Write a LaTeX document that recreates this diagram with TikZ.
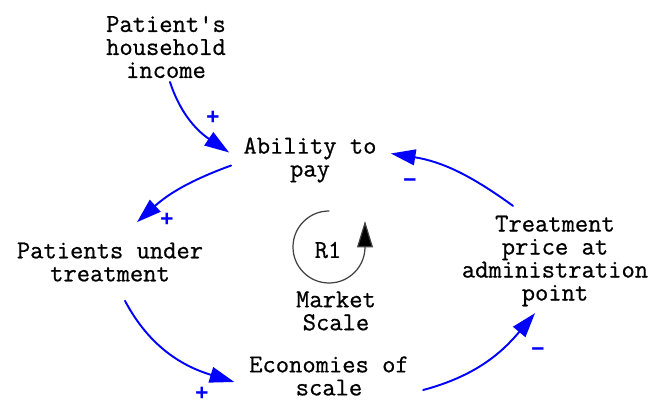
\documentclass[tikz,border=0pt]{standalone}
\usepackage{fontspec}
\newfontfamily\varfont{Latin Modern Mono}[FakeBold=0.7]
\newfontfamily\signfont{Liberation Mono}
\usepackage{tikz}
\usetikzlibrary{arrows.meta}

\begin{document}
\begin{tikzpicture}[line cap=round,line join=round,x=0.02cm,y=0.02cm,
  var/.style={align=center,inner sep=2pt,font=\varfont\fontsize{14.7}{13.1}\selectfont},
  link/.style={draw=blue,line width=1.1pt,-{Triangle[length=14pt,width=9pt]}},
  sign/.style={text=blue,font=\signfont\bfseries\fontsize{12.9}{13.1}\selectfont},
  loopsym/.style={draw=black!75,line width=0.7pt,-{Triangle[length=15pt,width=9pt,fill=black]}}]
\useasboundingbox (0,0) rectangle (653,403);
\node[var] (inc) at (166,356) {Patient's\\household\\income};
\node[var] (abl) at (310,243) {Ability to\\pay};
\node[var] (pat) at (110,141) {Patients under\\treatment};
\node[var] (eco) at (329,27) {Economies of\\scale};
\node[var] (tpr) at (555,142) {Treatment\\price at\\administration\\point};
\node[var] (r1) at (328,153) {R1};
\node[var] (mks) at (336,92) {Market\\Scale};
\coordinate (r1c) at (329,156);
\draw[loopsym] (r1c) ++(90:36) arc[start angle=90,end angle=360,radius=36] -- ++(0,26);
\draw[link] ([shift={(4,0)}]inc.south) to[out=-72,in=146] ([shift={(-10.5,7.5)}]abl.west);
\draw[link] ([shift={(-8.5,-5.5)}]abl.west) to[out=200,in=42] ([shift={(27,16.5)}]pat.north);
\draw[link] ([shift={(15,-15.5)}]pat.south) to[out=-62,in=163] ([shift={(-11,-6)}]eco.west);
\draw[link] ([shift={(10.5,-14)}]eco.east) to[out=15,in=230] ([shift={(-20,-3)}]tpr.south);
\draw[link] ([shift={(-42,6)}]tpr.north) to[out=144,in=-9] ([shift={(10.5,6.5)}]abl.east);
\node[sign] (s1) at (213,285) {+};
\node[sign] (s2) at (167,183) {+};
\node[sign] (s3) at (202,9) {+};
\node[sign] (s4) at (538,51) {−};
\node[sign] (s5) at (410,220) {−};
\end{tikzpicture}
\end{document}
